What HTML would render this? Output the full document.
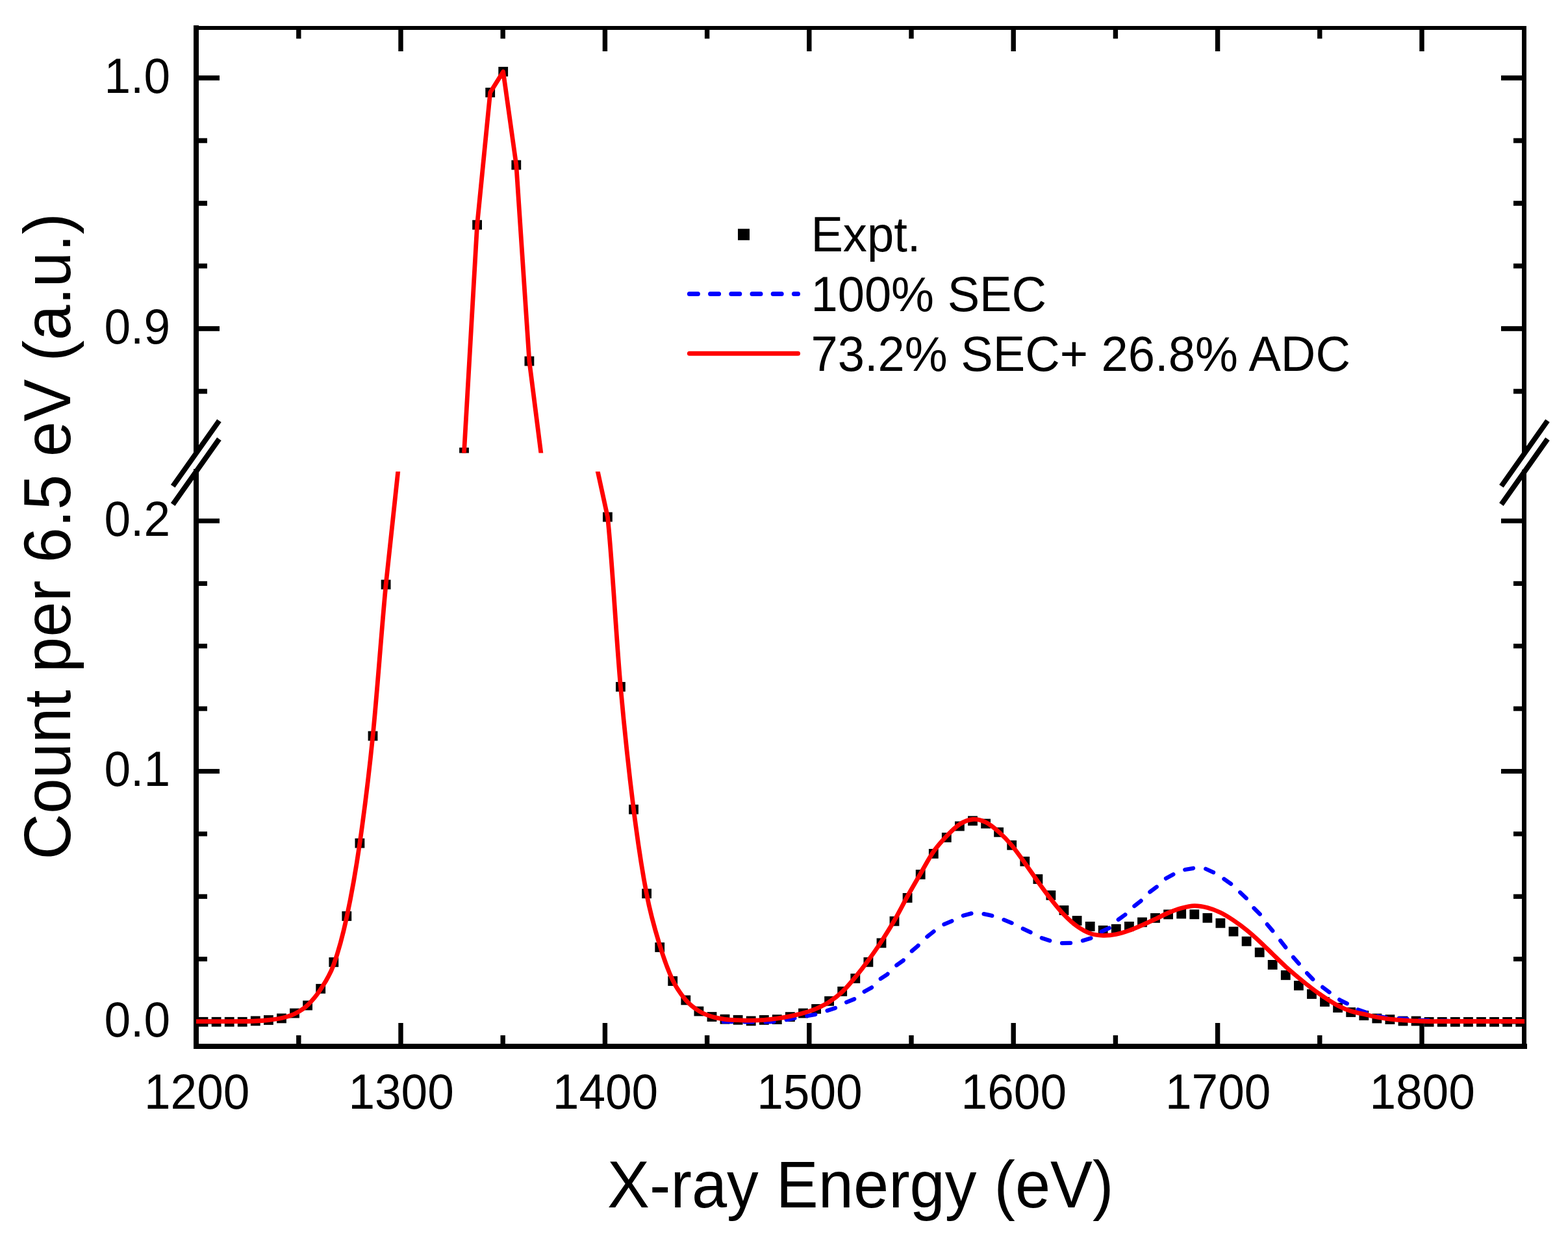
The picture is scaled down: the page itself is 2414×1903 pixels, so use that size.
<!DOCTYPE html>
<html><head><meta charset="utf-8"><title>X-ray spectrum</title>
<style>html,body{margin:0;padding:0;background:#fff;}body{width:2414px;height:1903px;overflow:hidden;}svg{display:block;}text{font-family:"Liberation Sans",Arial,sans-serif;fill:#000;}</style></head><body>
<svg width="2414" height="1903" viewBox="0 0 2414 1903">
<rect width="2414" height="1903" fill="#fff"/>
<defs><clipPath id="cu"><rect x="302" y="43" width="2045" height="654.6"/></clipPath><clipPath id="cl"><rect x="302" y="726" width="2045" height="885"/></clipPath><clipPath id="cuw"><rect x="298" y="43" width="2052" height="654.6"/></clipPath><clipPath id="clw"><rect x="298" y="726" width="2052" height="885"/></clipPath></defs>
<g id="frame" fill="#000"><rect x="298" y="40" width="2052" height="6"/><rect x="298" y="1607" width="2053" height="8"/><rect x="298" y="39" width="8" height="659"/><rect x="298" y="722" width="8" height="893"/><rect x="2343" y="40" width="7" height="659"/><rect x="2343" y="723" width="7" height="892"/><rect x="456.1" y="1594" width="7.4" height="14"/><rect x="456.1" y="45" width="7.4" height="14.5"/><rect x="613.3" y="1575" width="7.4" height="33"/><rect x="613.3" y="45" width="7.4" height="34"/><rect x="770.5" y="1594" width="7.4" height="14"/><rect x="770.5" y="45" width="7.4" height="14.5"/><rect x="927.7" y="1575" width="7.4" height="33"/><rect x="927.7" y="45" width="7.4" height="34"/><rect x="1084.9" y="1594" width="7.4" height="14"/><rect x="1084.9" y="45" width="7.4" height="14.5"/><rect x="1242.1" y="1575" width="7.4" height="33"/><rect x="1242.1" y="45" width="7.4" height="34"/><rect x="1399.3" y="1594" width="7.4" height="14"/><rect x="1399.3" y="45" width="7.4" height="14.5"/><rect x="1556.5" y="1575" width="7.4" height="33"/><rect x="1556.5" y="45" width="7.4" height="34"/><rect x="1713.7" y="1594" width="7.4" height="14"/><rect x="1713.7" y="45" width="7.4" height="14.5"/><rect x="1870.9" y="1575" width="7.4" height="33"/><rect x="1870.9" y="45" width="7.4" height="34"/><rect x="2028.1" y="1594" width="7.4" height="14"/><rect x="2028.1" y="45" width="7.4" height="14.5"/><rect x="2185.3" y="1575" width="7.4" height="33"/><rect x="2185.3" y="45" width="7.4" height="34"/><rect x="305" y="116.2" width="33" height="7.6"/><rect x="2311" y="116.2" width="33" height="7.6"/><rect x="305" y="212.7" width="14" height="7.6"/><rect x="2330" y="212.7" width="14" height="7.6"/><rect x="305" y="309.2" width="14" height="7.6"/><rect x="2330" y="309.2" width="14" height="7.6"/><rect x="305" y="405.7" width="14" height="7.6"/><rect x="2330" y="405.7" width="14" height="7.6"/><rect x="305" y="502.2" width="33" height="7.6"/><rect x="2311" y="502.2" width="33" height="7.6"/><rect x="305" y="598.7" width="14" height="7.6"/><rect x="2330" y="598.7" width="14" height="7.6"/><rect x="305" y="798.4" width="33" height="7.2"/><rect x="2311" y="798.4" width="33" height="7.2"/><rect x="305" y="894.8" width="14" height="7.2"/><rect x="2330" y="894.8" width="14" height="7.2"/><rect x="305" y="991.1" width="14" height="7.2"/><rect x="2330" y="991.1" width="14" height="7.2"/><rect x="305" y="1087.5" width="14" height="7.2"/><rect x="2330" y="1087.5" width="14" height="7.2"/><rect x="305" y="1183.9" width="33" height="7.2"/><rect x="2311" y="1183.9" width="33" height="7.2"/><rect x="305" y="1280.3" width="14" height="7.2"/><rect x="2330" y="1280.3" width="14" height="7.2"/><rect x="305" y="1376.7" width="14" height="7.2"/><rect x="2330" y="1376.7" width="14" height="7.2"/><rect x="305" y="1473" width="14" height="7.2"/><rect x="2330" y="1473" width="14" height="7.2"/><rect x="305" y="1569.4" width="33" height="7.2"/><rect x="2311" y="1569.4" width="33" height="7.2"/></g>
<g clip-path="url(#cuw)">
<g fill="#000" clip-path="url(#cu)"><rect x="707.1" y="689.2" width="14.8" height="14.8"/><rect x="727.2" y="338.8" width="14.8" height="14.8"/><rect x="747.3" y="135" width="14.8" height="14.8"/><rect x="767.3" y="102.9" width="14.8" height="14.8"/><rect x="787.4" y="246.6" width="14.8" height="14.8"/><rect x="807.5" y="548.6" width="14.8" height="14.8"/></g>
<path d="M302.0 3979.6L313.0 3979.6L333.1 3979.6L353.2 3979.6L373.2 3979.5L393.3 3979.0L413.4 3977.5L433.5 3974.5L453.5 3968.0L473.6 3954.5L493.7 3929.9L513.8 3891.9L533.8 3818.8L553.9 3704.6L574.0 3539.4L594.1 3306.1L614.1 3119.2L634.2 2590.4L654.3 1972.8L674.4 1355.2L694.4 930.6L714.5 696.7L734.6 346.2L754.7 142.4L774.7 110.4L794.8 253.9L814.9 556.2L835.0 714.4L855.1 1278.0L875.1 1972.8L895.2 2590.4L915.3 3109.2L935.4 3201.7L955.4 3463.3L975.5 3652.6L995.6 3783.7L1015.7 3862.0L1035.7 3916.2L1055.8 3946.7L1075.9 3963.5L1096.0 3972.3L1116.0 3976.3L1136.1 3977.7L1156.2 3978.2L1176.3 3977.3L1196.3 3975.2L1216.4 3971.7L1236.5 3966.8L1256.6 3960.0L1276.6 3949.6L1296.7 3933.9L1316.8 3911.4L1336.9 3885.4L1357.0 3856.3L1377.0 3823.8L1397.1 3786.7L1417.2 3751.7L1437.3 3717.7L1457.3 3693.9L1477.4 3675.7L1497.5 3668.1L1517.6 3672.6L1537.6 3687.3L1557.7 3708.2L1577.8 3735.4L1597.9 3764.1L1617.9 3791.1L1638.0 3815.0L1658.1 3832.9L1678.2 3843.9L1698.2 3847.1L1718.3 3845.3L1738.4 3839.4L1758.5 3831.1L1778.5 3822.0L1798.6 3812.3L1818.7 3805.1L1838.8 3801.5L1858.9 3804.3L1878.9 3811.8L1899.0 3823.8L1919.1 3838.6L1939.2 3856.2L1959.2 3875.8L1979.3 3895.1L1999.4 3912.4L2019.5 3928.5L2039.5 3942.9L2059.6 3955.2L2079.7 3963.8L2099.8 3968.4L2119.8 3973.0L2139.9 3976.2L2160.0 3977.8L2180.1 3978.9L2200.1 3979.5L2220.2 3979.5L2240.3 3979.5L2260.4 3979.5L2280.4 3979.5L2300.5 3979.5L2320.6 3979.5L2340.7 3979.5L2347.0 3979.5" fill="none" stroke-linejoin="round" stroke="#ff0000" stroke-width="6.8" stroke-linecap="butt"/>
</g>
<g clip-path="url(#clw)">
<g fill="#000" clip-path="url(#cl)"><rect x="305.6" y="1565.9" width="14.8" height="14.8"/><rect x="325.7" y="1565.9" width="14.8" height="14.8"/><rect x="345.8" y="1565.9" width="14.8" height="14.8"/><rect x="365.8" y="1565.9" width="14.8" height="14.8"/><rect x="385.9" y="1564.5" width="14.8" height="14.8"/><rect x="406" y="1563.1" width="14.8" height="14.8"/><rect x="426.1" y="1560.5" width="14.8" height="14.8"/><rect x="446.1" y="1552.6" width="14.8" height="14.8"/><rect x="466.2" y="1540.6" width="14.8" height="14.8"/><rect x="486.3" y="1514.9" width="14.8" height="14.8"/><rect x="506.4" y="1474" width="14.8" height="14.8"/><rect x="526.4" y="1403.1" width="14.8" height="14.8"/><rect x="546.5" y="1290.8" width="14.8" height="14.8"/><rect x="566.6" y="1125.7" width="14.8" height="14.8"/><rect x="586.7" y="892.6" width="14.8" height="14.8"/><rect x="928" y="788.6" width="14.8" height="14.8"/><rect x="948" y="1050" width="14.8" height="14.8"/><rect x="968.1" y="1238.8" width="14.8" height="14.8"/><rect x="988.2" y="1368.4" width="14.8" height="14.8"/><rect x="1008.3" y="1451.1" width="14.8" height="14.8"/><rect x="1028.3" y="1503.1" width="14.8" height="14.8"/><rect x="1048.4" y="1532.5" width="14.8" height="14.8"/><rect x="1068.5" y="1549.6" width="14.8" height="14.8"/><rect x="1088.6" y="1558.1" width="14.8" height="14.8"/><rect x="1108.6" y="1561.8" width="14.8" height="14.8"/><rect x="1128.7" y="1562.9" width="14.8" height="14.8"/><rect x="1148.8" y="1564.5" width="14.8" height="14.8"/><rect x="1168.9" y="1563" width="14.8" height="14.8"/><rect x="1188.9" y="1562.2" width="14.8" height="14.8"/><rect x="1209" y="1558.2" width="14.8" height="14.8"/><rect x="1229.1" y="1552.6" width="14.8" height="14.8"/><rect x="1249.2" y="1546" width="14.8" height="14.8"/><rect x="1269.2" y="1533.9" width="14.8" height="14.8"/><rect x="1289.3" y="1519" width="14.8" height="14.8"/><rect x="1309.4" y="1499" width="14.8" height="14.8"/><rect x="1329.5" y="1473.9" width="14.8" height="14.8"/><rect x="1349.6" y="1444.5" width="14.8" height="14.8"/><rect x="1369.6" y="1410.9" width="14.8" height="14.8"/><rect x="1389.7" y="1375" width="14.8" height="14.8"/><rect x="1409.8" y="1339" width="14.8" height="14.8"/><rect x="1429.9" y="1307" width="14.8" height="14.8"/><rect x="1449.9" y="1282" width="14.8" height="14.8"/><rect x="1470" y="1264.6" width="14.8" height="14.8"/><rect x="1490.1" y="1256.4" width="14.8" height="14.8"/><rect x="1510.2" y="1260.7" width="14.8" height="14.8"/><rect x="1530.2" y="1273.9" width="14.8" height="14.8"/><rect x="1550.3" y="1293.9" width="14.8" height="14.8"/><rect x="1570.4" y="1318.9" width="14.8" height="14.8"/><rect x="1590.5" y="1346.1" width="14.8" height="14.8"/><rect x="1610.5" y="1371" width="14.8" height="14.8"/><rect x="1630.6" y="1394.1" width="14.8" height="14.8"/><rect x="1650.7" y="1410.1" width="14.8" height="14.8"/><rect x="1670.8" y="1419" width="14.8" height="14.8"/><rect x="1690.8" y="1425" width="14.8" height="14.8"/><rect x="1710.9" y="1422.9" width="14.8" height="14.8"/><rect x="1731" y="1419" width="14.8" height="14.8"/><rect x="1751.1" y="1412.5" width="14.8" height="14.8"/><rect x="1771.1" y="1406" width="14.8" height="14.8"/><rect x="1791.2" y="1400.5" width="14.8" height="14.8"/><rect x="1811.3" y="1399.6" width="14.8" height="14.8"/><rect x="1831.4" y="1400.4" width="14.8" height="14.8"/><rect x="1851.5" y="1405.9" width="14.8" height="14.8"/><rect x="1871.5" y="1413.9" width="14.8" height="14.8"/><rect x="1891.6" y="1426.8" width="14.8" height="14.8"/><rect x="1911.7" y="1441.9" width="14.8" height="14.8"/><rect x="1931.8" y="1458.9" width="14.8" height="14.8"/><rect x="1951.8" y="1478" width="14.8" height="14.8"/><rect x="1971.9" y="1494" width="14.8" height="14.8"/><rect x="1992" y="1510" width="14.8" height="14.8"/><rect x="2012.1" y="1523.1" width="14.8" height="14.8"/><rect x="2032.1" y="1535" width="14.8" height="14.8"/><rect x="2052.2" y="1544.1" width="14.8" height="14.8"/><rect x="2072.3" y="1551.1" width="14.8" height="14.8"/><rect x="2092.4" y="1556.1" width="14.8" height="14.8"/><rect x="2112.4" y="1560.6" width="14.8" height="14.8"/><rect x="2132.5" y="1562.2" width="14.8" height="14.8"/><rect x="2152.6" y="1564.6" width="14.8" height="14.8"/><rect x="2172.7" y="1564.6" width="14.8" height="14.8"/><rect x="2192.7" y="1566" width="14.8" height="14.8"/><rect x="2212.8" y="1566" width="14.8" height="14.8"/><rect x="2232.9" y="1566" width="14.8" height="14.8"/><rect x="2253" y="1566" width="14.8" height="14.8"/><rect x="2273" y="1566" width="14.8" height="14.8"/><rect x="2293.1" y="1566" width="14.8" height="14.8"/><rect x="2313.2" y="1566" width="14.8" height="14.8"/><rect x="2333.3" y="1566" width="14.8" height="14.8"/></g>
<path d="M1100.0 1572.6L1140.0 1573.3L1174.7 1573.4L1191.4 1573.0L1207.4 1570.6L1225.4 1567.4L1238.3 1564.8L1257.6 1561.6L1270.5 1557.1L1287.9 1551.3L1298.8 1544.9L1316.2 1537.8L1327.1 1528.8L1342.0 1520.4L1352.9 1508.8L1365.8 1500.4L1377.4 1488.2L1390.2 1479.2L1399.9 1467.6L1412.8 1456.6L1423.7 1445.0L1439.9 1432.3L1451.8 1423.9L1468.0 1416.9L1482.0 1409.9L1498.2 1405.6L1513.6 1407.0L1530.5 1410.5L1543.9 1415.5L1559.3 1421.8L1572.7 1428.8L1587.4 1435.8L1602.2 1443.6L1619.0 1449.2L1633.4 1452.2L1651.5 1451.7L1665.6 1448.7L1680.8 1444.0L1693.7 1435.3L1708.9 1428.2L1718.3 1418.3L1732.3 1408.3L1743.5 1397.2L1756.3 1387.2L1767.5 1375.5L1782.1 1364.4L1792.6 1353.9L1808.5 1345.1L1823.1 1339.2L1839.9 1336.3L1855.7 1337.5L1870.9 1344.5L1882.6 1352.1L1896.1 1361.5L1908.4 1373.2L1920.1 1384.3L1929.5 1397.2L1941.8 1409.5L1951.1 1423.5L1960.5 1434.6L1971.6 1448.7L1981.6 1461.6L1991.5 1474.4L2000.9 1485.0L2011.5 1497.6L2022.6 1509.2L2035.3 1519.2L2048.6 1529.2L2063.6 1540.2L2076.3 1546.3L2090.5 1554.5L2107.5 1560.2L2122.5 1564.8L2137.5 1567.3L2153.8 1568.2L2169.3 1569.2L2185.8 1570.6L2201.1 1571.0L2230.0 1572.0L2270.0 1572.5L2347.0 1572.5" fill="none" stroke-linejoin="round" stroke="#0000ff" stroke-width="6.3" stroke-linecap="round" stroke-dasharray="13.0 19.35" stroke-dashoffset="18.53"/>
<path d="M302.0 1572.6L313.0 1572.6C318.2 1572.6 326.4 1572.6 333.1 1572.6C339.8 1572.6 346.5 1572.6 353.2 1572.6C359.8 1572.6 366.5 1572.6 373.2 1572.5C379.9 1572.4 386.6 1572.3 393.3 1572.0C400.0 1571.7 406.7 1571.2 413.4 1570.5C420.1 1569.8 426.8 1569.1 433.5 1567.5C440.1 1565.9 446.8 1564.3 453.5 1561.0C460.2 1557.7 466.9 1553.8 473.6 1547.5C480.3 1541.2 487.0 1533.4 493.7 1523.0C500.4 1512.6 507.1 1503.5 513.8 1485.0C520.5 1466.5 527.1 1443.2 533.8 1412.0C540.5 1380.8 547.2 1344.5 553.9 1298.0C560.6 1251.5 567.3 1199.3 574.0 1133.0C580.7 1066.7 587.4 969.9 594.1 900.0L614.1 713.3L634.2 185.2L654.3 -431.6L674.4 -1048.4L694.4 -1472.5L714.5 -1706.1L734.6 -2056.1L754.7 -2259.6L774.7 -2291.6L794.8 -2148.2L814.9 -1846.4L835.0 -1688.3L855.1 -1125.5L875.1 -431.6L895.2 185.2L915.3 703.3L935.4 795.7C942.0 854.6 948.7 982.0 955.4 1057.0C962.1 1132.0 968.8 1192.7 975.5 1246.0C982.2 1299.3 988.9 1342.1 995.6 1377.0C1002.3 1411.9 1009.0 1433.2 1015.7 1455.2C1022.4 1477.2 1029.0 1495.2 1035.7 1509.3C1042.4 1523.4 1049.1 1531.8 1055.8 1539.7C1062.5 1547.6 1069.2 1552.2 1075.9 1556.5C1082.6 1560.8 1089.3 1563.2 1096.0 1565.3C1102.7 1567.4 1109.3 1568.4 1116.0 1569.3C1122.7 1570.2 1129.4 1570.4 1136.1 1570.7C1142.8 1571.0 1149.5 1571.3 1156.2 1571.2C1162.9 1571.1 1169.6 1570.8 1176.3 1570.3C1183.0 1569.8 1189.7 1569.1 1196.3 1568.2C1203.0 1567.3 1209.7 1566.1 1216.4 1564.7C1223.1 1563.3 1229.8 1561.8 1236.5 1559.8C1243.2 1557.8 1249.9 1555.9 1256.6 1553.0C1263.3 1550.1 1270.0 1546.9 1276.6 1542.6C1283.3 1538.3 1290.0 1533.3 1296.7 1527.0C1303.4 1520.7 1310.1 1512.6 1316.8 1504.5C1323.5 1496.4 1330.2 1487.7 1336.9 1478.5C1343.6 1469.3 1350.3 1459.8 1357.0 1449.5C1363.6 1439.2 1370.3 1428.6 1377.0 1417.0C1383.7 1405.4 1390.4 1392.0 1397.1 1380.0C1403.8 1368.0 1410.5 1356.5 1417.2 1345.0C1423.9 1333.5 1430.6 1320.6 1437.3 1311.0C1443.9 1301.4 1450.6 1294.3 1457.3 1287.3C1464.0 1280.3 1470.7 1273.4 1477.4 1269.1C1484.1 1264.8 1490.8 1262.0 1497.5 1261.5C1504.2 1261.0 1510.9 1262.8 1517.6 1266.0C1524.3 1269.2 1530.9 1274.8 1537.6 1280.7C1544.3 1286.6 1551.0 1293.6 1557.7 1301.6C1564.4 1309.6 1571.1 1319.4 1577.8 1328.7C1584.5 1338.0 1591.2 1348.1 1597.9 1357.4C1604.6 1366.7 1611.2 1375.8 1617.9 1384.3C1624.6 1392.8 1631.3 1401.2 1638.0 1408.2C1644.7 1415.2 1651.4 1421.3 1658.1 1426.1C1664.8 1430.9 1671.5 1434.7 1678.2 1437.1C1684.9 1439.5 1691.6 1440.1 1698.2 1440.3C1704.9 1440.5 1711.6 1439.8 1718.3 1438.5C1725.0 1437.2 1731.7 1435.0 1738.4 1432.6C1745.1 1430.2 1751.8 1427.2 1758.5 1424.3C1765.2 1421.4 1771.9 1418.3 1778.5 1415.2C1785.2 1412.1 1791.9 1408.3 1798.6 1405.5C1805.3 1402.7 1812.0 1400.1 1818.7 1398.3C1825.4 1396.5 1832.1 1394.8 1838.8 1394.7C1845.5 1394.6 1852.2 1395.8 1858.9 1397.5C1865.5 1399.2 1872.2 1401.8 1878.9 1405.0C1885.6 1408.2 1892.3 1412.5 1899.0 1417.0C1905.7 1421.5 1912.4 1426.4 1919.1 1431.8C1925.8 1437.2 1932.5 1443.2 1939.2 1449.4C1945.8 1455.6 1952.5 1462.4 1959.2 1468.9C1965.9 1475.4 1972.6 1482.1 1979.3 1488.2C1986.0 1494.3 1992.7 1499.9 1999.4 1505.5C2006.1 1511.1 2012.8 1516.5 2019.5 1521.6C2026.2 1526.7 2032.8 1531.5 2039.5 1535.9C2046.2 1540.3 2052.9 1544.7 2059.6 1548.2C2066.3 1551.7 2073.0 1554.6 2079.7 1556.8C2086.4 1559.0 2093.1 1559.9 2099.8 1561.4C2106.5 1562.9 2113.1 1564.7 2119.8 1566.0C2126.5 1567.3 2133.2 1568.4 2139.9 1569.2C2146.6 1570.0 2153.3 1570.3 2160.0 1570.8C2166.7 1571.2 2173.4 1571.6 2180.1 1571.9C2186.8 1572.2 2193.5 1572.4 2200.1 1572.5C2206.8 1572.6 2213.5 1572.5 2220.2 1572.5C2226.9 1572.5 2233.6 1572.5 2240.3 1572.5C2247.0 1572.5 2253.7 1572.5 2260.4 1572.5C2267.1 1572.5 2273.8 1572.5 2280.4 1572.5C2287.1 1572.5 2293.8 1572.5 2300.5 1572.5C2307.2 1572.5 2313.9 1572.5 2320.6 1572.5C2327.3 1572.5 2336.3 1572.5 2340.7 1572.5C2345.1 1572.5 2345.9 1572.5 2347.0 1572.5" fill="none" stroke-linejoin="round" stroke="#ff0000" stroke-width="6.8" stroke-linecap="butt"/>
</g>
<g stroke="#000" stroke-width="8" stroke-linecap="butt"><line x1="266.2" y1="748.5" x2="337.4" y2="647.8"/><line x1="266.2" y1="776.6" x2="337.4" y2="675.9"/><line x1="2311.4" y1="748.5" x2="2382.5" y2="647.8"/><line x1="2311.4" y1="776.6" x2="2382.5" y2="675.9"/></g>
<text font-size="73" text-anchor="middle" transform="translate(303.2 1707) scale(1.0 1.03)">1200</text><text font-size="73" text-anchor="middle" transform="translate(617.6 1707) scale(1.0 1.03)">1300</text><text font-size="73" text-anchor="middle" transform="translate(932 1707) scale(1.0 1.03)">1400</text><text font-size="73" text-anchor="middle" transform="translate(1246.4 1707) scale(1.0 1.03)">1500</text><text font-size="73" text-anchor="middle" transform="translate(1560.8 1707) scale(1.0 1.03)">1600</text><text font-size="73" text-anchor="middle" transform="translate(1875.2 1707) scale(1.0 1.03)">1700</text><text font-size="73" text-anchor="middle" transform="translate(2189.6 1707) scale(1.0 1.03)">1800</text><text font-size="73" text-anchor="end" transform="translate(262 142.6) scale(1.0 1.03)">1.0</text><text font-size="73" text-anchor="end" transform="translate(262 528.6) scale(1.0 1.03)">0.9</text><text font-size="73" text-anchor="end" transform="translate(262 824.6) scale(1.0 1.03)">0.2</text><text font-size="73" text-anchor="end" transform="translate(262 1210.1) scale(1.0 1.03)">0.1</text><text font-size="73" text-anchor="end" transform="translate(262 1595.6) scale(1.0 1.03)">0.0</text>
<text font-size="97.4" transform="translate(935.11 1859.3) scale(1 1.045)">X-ray Energy (eV)</text>
<text font-size="97.86" transform="translate(108 1323.47) rotate(-90) scale(1 1.045)">Count per 6.5 eV (a.u.)</text>
<rect x="1136" y="352.3" width="18" height="17.5" fill="#000"/><line x1="1061.4" y1="452.6" x2="1228.5" y2="452.6" stroke="#0000ff" stroke-width="7" stroke-linecap="round" stroke-dasharray="13 19.2"/><line x1="1061.4" y1="544.3" x2="1228.5" y2="544.3" stroke="#ff0000" stroke-width="7" stroke-linecap="round"/><text font-size="73" transform="translate(1248.4 387.4) scale(1.016 1.04)">Expt.</text><text font-size="73" transform="translate(1248.4 478.9) scale(1.016 1.04)">100% SEC</text><text font-size="73" transform="translate(1248.4 571.3) scale(1.016 1.04)">73.2% SEC+ 26.8% ADC</text>
</svg></body></html>
